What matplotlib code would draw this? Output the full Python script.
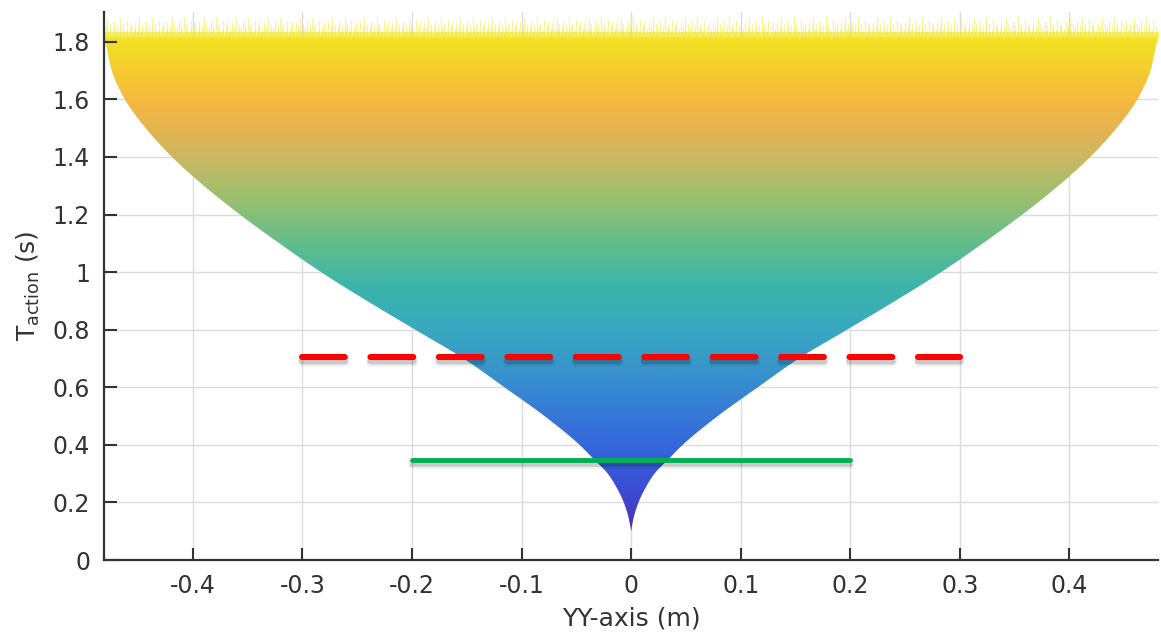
import numpy as np
import matplotlib
matplotlib.use("Agg")
import matplotlib.pyplot as plt
from matplotlib.colors import LinearSegmentedColormap
from matplotlib.patches import Polygon
import matplotlib.patheffects as pe

plt.rcParams['axes.unicode_minus'] = False
plt.rcParams['font.family'] = ['DejaVu Sans']

# Envelope of the reachable region: half-width (m) versus action time (s)
t_env = [0.098, 0.15, 0.2, 0.25, 0.3, 0.35, 0.4, 0.5, 0.6, 0.7, 0.8, 0.9,
         1.0, 1.1, 1.2, 1.3, 1.4, 1.5, 1.6, 1.7, 1.8, 1.83]
w_env = [0.000, 0.0025, 0.0067, 0.0130, 0.0213, 0.0340, 0.047, 0.079, 0.1156,
         0.153, 0.197, 0.241, 0.283, 0.321, 0.357, 0.390, 0.419, 0.443, 0.462,
         0.474, 0.480, 0.483]
t_solid_top = 1.815

# Reference thresholds
red_t = 0.705
red_x = [-0.3, 0.3]
green_t = 0.347
green_x = [-0.2, 0.2]

x_ticks = [-0.4, -0.3, -0.2, -0.1, 0, 0.1, 0.2, 0.3, 0.4]
x_labels = ['-0.4', '-0.3', '-0.2', '-0.1', '0', '0.1', '0.2', '0.3', '0.4']
y_ticks = [0, 0.2, 0.4, 0.6, 0.8, 1.0, 1.2, 1.4, 1.6, 1.8]
y_labels = ['0', '0.2', '0.4', '0.6', '0.8', '1', '1.2', '1.4', '1.6', '1.8']

# Colour by action time (parula-like ramp)
t_lo, t_hi = 0.10, 1.88
anchors = [
    (0.10, '#4b30b0'), (0.20, '#3f45d0'), (0.35, '#3560dc'), (0.50, '#3578d6'),
    (0.65, '#3893cc'), (0.80, '#38a8c0'), (0.95, '#3cb5aa'), (1.10, '#62bd8c'),
    (1.25, '#98c070'), (1.40, '#cab862'), (1.50, '#e6b450'), (1.60, '#f6b940'),
    (1.70, '#f5cc30'), (1.80, '#f0e022'), (1.88, '#f2ec1c'),
]
cmap = LinearSegmentedColormap.from_list(
    'ramp', [((t - t_lo) / (t_hi - t_lo), c) for t, c in anchors])


def pchip(x, y, xn):
    """Shape-preserving piecewise cubic Hermite interpolation."""
    x = np.asarray(x, float)
    y = np.asarray(y, float)
    h = np.diff(x)
    dl = np.diff(y) / h
    d = np.zeros_like(y)
    for k in range(1, len(x) - 1):
        if dl[k - 1] * dl[k] > 0:
            w1 = 2 * h[k] + h[k - 1]
            w2 = h[k] + 2 * h[k - 1]
            d[k] = (w1 + w2) / (w1 / dl[k - 1] + w2 / dl[k])
    d[0] = max(0.0, ((2 * h[0] + h[1]) * dl[0] - h[0] * dl[1]) / (h[0] + h[1]))
    d[-1] = max(0.0, ((2 * h[-1] + h[-2]) * dl[-1] - h[-1] * dl[-2]) / (h[-1] + h[-2]))
    idx = np.clip(np.searchsorted(x, xn) - 1, 0, len(x) - 2)
    s = (xn - x[idx]) / h[idx]
    h00 = 2 * s**3 - 3 * s**2 + 1
    h10 = s**3 - 2 * s**2 + s
    h01 = -2 * s**3 + 3 * s**2
    h11 = s**3 - s**2
    return (h00 * y[idx] + h10 * h[idx] * d[idx] + h01 * y[idx + 1]
            + h11 * h[idx] * d[idx + 1])


fig = plt.figure(figsize=(11.61, 6.35), dpi=100)
ax = fig.add_axes([0.0896, 0.118, 0.908, 0.863])

xlim = (-0.481, 0.481)
ylim = (0.0, 1.903)

# Grid
for xv in x_ticks:
    ax.axvline(xv, color='#dcdcdc', lw=1.0, zorder=0)
for yv in y_ticks[1:]:
    ax.axhline(yv, color='#dcdcdc', lw=1.0, zorder=0)

# Funnel polygon with a smooth outline
tt = np.linspace(t_env[0], t_env[-1], 500)
ww = np.clip(pchip(t_env, w_env, tt), 0, None)
tt = np.append(tt, t_solid_top)
ww = np.append(ww, ww[-1])
xs = np.concatenate([ww, -ww[::-1]])
ys = np.concatenate([tt, tt[::-1]])
poly = Polygon(np.column_stack([xs, ys]), closed=True, facecolor='none',
               edgecolor='none', transform=ax.transData)
ax.add_patch(poly)

grad = np.linspace(t_lo, t_hi, 600).reshape(-1, 1)
im = ax.imshow(grad, cmap=cmap, extent=[-0.5, 0.5, t_lo, t_hi], origin='lower',
               aspect='auto', vmin=t_lo, vmax=t_hi, zorder=1, interpolation='bilinear')
im.set_clip_path(poly)

# Ragged crest where the individual trajectories end
crest_x = np.linspace(-w_env[-1], w_env[-1], 760)
crest_pattern = [0.030, 0.052, 0.018, 0.041, 0.066, 0.025, 0.047, 0.012,
                 0.036, 0.058, 0.022, 0.044, 0.015, 0.070, 0.033, 0.050, 0.020,
                 0.027, 0.061, 0.010, 0.039, 0.054, 0.017]
crest_h = np.resize(crest_pattern, crest_x.size)
ax.vlines(crest_x, t_solid_top - 0.005, t_solid_top + crest_h,
          color='#f2e830', lw=0.9, alpha=0.5, zorder=1)
ax.fill_between([-w_env[-1], w_env[-1]], t_solid_top - 0.005, t_solid_top + 0.018,
                color='#f1e526', alpha=0.6, lw=0, zorder=1)

# Threshold lines with a soft drop shadow
def soft_shadow(lw):
    return [pe.SimpleLineShadow(offset=(0, -2), shadow_color='black', alpha=0.08,
                                linewidth=lw + 2),
            pe.SimpleLineShadow(offset=(0, -3), shadow_color='black', alpha=0.09,
                                linewidth=lw),
            pe.SimpleLineShadow(offset=(0, -4), shadow_color='black', alpha=0.05,
                                linewidth=lw + 1),
            pe.Normal()]

ax.plot(red_x, [red_t, red_t], color='#ff0000', lw=4.4, dashes=(7, 4.2),
        dash_capstyle='round', solid_capstyle='round', zorder=3,
        path_effects=soft_shadow(4.4))
ax.plot(green_x, [green_t, green_t], color='#00b050', lw=3.5,
        solid_capstyle='round', zorder=3, path_effects=soft_shadow(3.5))

ax.set_xlim(*xlim)
ax.set_ylim(*ylim)
ax.set_xticks(x_ticks)
ax.set_xticklabels(x_labels)
ax.set_yticks(y_ticks)
ax.set_yticklabels(y_labels)

for s in ['top', 'right']:
    ax.spines[s].set_visible(False)
for s in ['left', 'bottom']:
    ax.spines[s].set_color('#333333')
    ax.spines[s].set_linewidth(1.6)

ax.tick_params(direction='in', length=9, width=1.5, color='#333333',
               labelsize=17, labelcolor='#333333', pad=10)
ax.set_xlabel('YY-axis (m)', fontsize=18, color='#333333', labelpad=6)
ax.set_ylabel(r'T$_{\mathrm{action}}$ (s)', fontsize=18, color='#333333', labelpad=8)

fig.savefig('out.png', dpi=100)
